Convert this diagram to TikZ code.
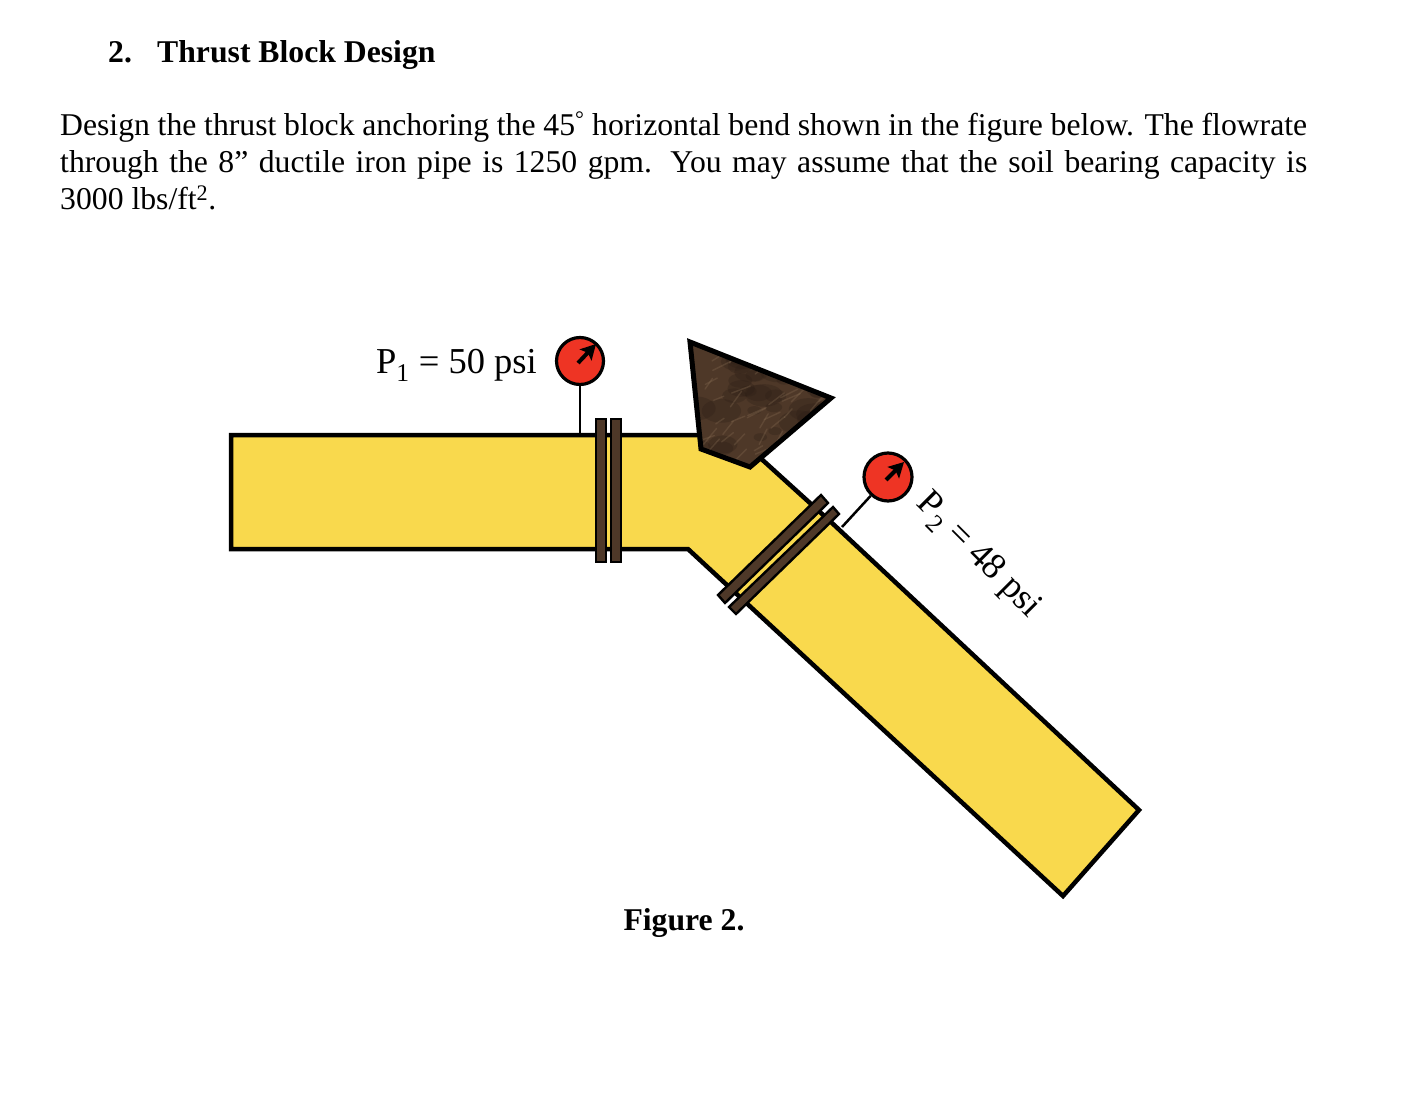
\documentclass[tikz,border=0pt]{standalone}
\usepackage{fontspec}
\setmainfont{Liberation Serif}
\usetikzlibrary{arrows.meta,positioning}
\definecolor{pipeyellow}{RGB}{249,217,77}
\definecolor{gaugered}{RGB}{238,52,36}
\definecolor{blockbrown}{RGB}{78,56,40}
\definecolor{blocklight}{RGB}{138,112,86}
\definecolor{blockdark}{RGB}{44,30,22}
\tikzset{
  pipeline/.style = {draw=black, line width=4.5pt, line join=miter, fill=pipeyellow},
  flangebar/.style = {draw=black, line width=2.4pt, fill=blockbrown},
  blockline/.style = {draw=black, line width=5pt, line join=miter},
  gauge/.style = {circle, draw=black, line width=3.2pt, fill=gaugered, minimum size=47pt, inner sep=0pt},
  stem/.style = {draw=black, line width=2.5pt},
  needle/.style = {-{Stealth[length=15pt,width=16pt,inset=3pt]}, line width=4pt, black},
  txt/.style = {inner sep=0pt, font=\fontsize{31.7}{37}\selectfont},
  psilabel/.style = {inner sep=0pt, font=\fontsize{36.5}{37}\selectfont}
}
\begin{document}
\begin{tikzpicture}[x=1pt, y=-1pt]
   \useasboundingbox (0,0) rectangle (1410,1094);
   \node[txt, anchor=base west] (num) at (108,63) {\bfseries 2.};
   \node[txt, anchor=base west] (title) at (157,63) {\bfseries Thrust Block Design};
   \node[txt, anchor=base west, text width=1247pt, align=justify] (para) at (60,136)
     {Design the thrust block anchoring the 45\textsuperscript{°} horizontal bend shown in the figure below. The flowrate\linebreak
      through the 8” ductile iron pipe is 1250 gpm. You may assume that the soil bearing capacity is\linebreak
      3000 lbs/ft\textsuperscript{2}.};
   \path[pipeline] (231,435) -- (735,435) -- (832,523) -- (1139,810) -- (1063,896)
     -- (688,549) -- (231,549) -- cycle;
   \draw[flangebar] (596,419) rectangle (606,562);
   \draw[flangebar] (611,419) rectangle (621,562);
   \draw[flangebar] (821,495) -- (828,503) -- (725,603) -- (718,595) -- cycle;
   \draw[flangebar] (833,507) -- (839,514) -- (736,614) -- (729,607) -- cycle;
   \fill[blockbrown] (690,342) -- (831,398) -- (750,467) -- (701,449) -- cycle;
   \begin{scope}
     \clip (690,342) -- (831,398) -- (750,467) -- (701,449) -- cycle;
     \pgfmathsetseed{4217}
     \foreach \i in {1,...,40}{
       \pgfmathsetmacro{\px}{690+rnd*140}
       \pgfmathsetmacro{\py}{342+rnd*125}
       \pgfmathsetmacro{\rx}{6+rnd*14}
       \fill[blockdark, opacity=.3] (\px,\py) ellipse ({\rx pt} and {0.6*\rx pt});
     }
     \foreach \i in {1,...,60}{
       \pgfmathsetmacro{\px}{690+rnd*140}
       \pgfmathsetmacro{\py}{342+rnd*125}
       \pgfmathsetmacro{\dx}{5+rnd*14}
       \pgfmathsetmacro{\dy}{-4-rnd*12}
       \draw[blocklight, opacity=.3, line width=1.4pt, line cap=round] (\px,\py) -- ++(\dx,\dy);
     }
   \end{scope}
   \draw[blockline] (690,342) -- (831,398) -- (750,467) -- (701,449) -- cycle;
   \node[gauge] (g_1) at (580,361) {};
   \node[gauge, minimum size=48pt] (g_2) at (888,477) {};
   \coordinate (t_1) at (580,435);
   \coordinate (t_2) at (842,527);
   \path[stem] (g_1) -- (t_1);
   \path[stem] (g_2) -- (t_2);
   \coordinate (n_1a) at (578,363);
   \coordinate (n_1b) at (596,344);
   \coordinate (n_2a) at (886,480);
   \coordinate (n_2b) at (904,462);
   \draw[needle] (n_1a) -- (n_1b);
   \draw[needle] (n_2a) -- (n_2b);
   \node[psilabel, anchor=base east] (p_1) at (537,373) {P\textsubscript{1} = 50 psi};
   \node[psilabel, rotate=-45] (p_2) at (978,556) {P\textsubscript{2} = 48 psi};
   \node[txt, anchor=base] (cap) at (684,930) {\bfseries Figure 2.};
\end{tikzpicture}
\end{document}
